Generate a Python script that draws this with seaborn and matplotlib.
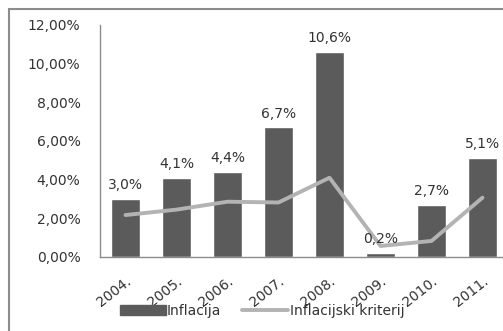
import matplotlib
matplotlib.use('Agg')
import matplotlib.pyplot as plt
import matplotlib.patches as mpatches
import seaborn as sns
import pandas as pd

years = ['2004.', '2005.', '2006.', '2007.', '2008.', '2009.', '2010.', '2011.']
inflacija = [3.0, 4.1, 4.4, 6.7, 10.6, 0.2, 2.7, 5.1]
kriterij = [2.17, 2.45, 2.86, 2.82, 4.1, 0.57, 0.83, 3.07]
y_ticks = [0, 2, 4, 6, 8, 10, 12]

df = pd.DataFrame({'godina': years, 'inflacija': inflacija, 'kriterij': kriterij})

sns.set_style('white')
plt.rcParams['font.family'] = ['DejaVu Sans']

fig = plt.figure(figsize=(5.03, 3.31), dpi=100)
W, H = 503, 331
fs = 10

# outer chart frame (cut at right/bottom like the reference)
fig.patches.append(mpatches.Rectangle((9 / W, -0.05), 1.0, 1 - 9 / H + 0.05,
                                      transform=fig.transFigure, fill=False,
                                      edgecolor='#8c8c8c', linewidth=1.5))

ax = fig.add_axes([100 / W, (H - 257) / H, 408 / W, 232 / H])

bar_col = '#5b5b5b'
line_col = '#b3b3b3'

sns.barplot(data=df, x='godina', y='inflacija', color=bar_col, width=0.57,
            saturation=1, ax=ax, zorder=2)
sns.lineplot(x=range(len(years)), y=kriterij, color=line_col, linewidth=2.8,
             ax=ax, zorder=3)

for i, v in enumerate(inflacija):
    ax.annotate(f'{v:.1f}%'.replace('.', ','), (i, v), xytext=(0, 5),
                textcoords='offset points', ha='center', va='bottom',
                fontsize=fs, color='#333333')

ax.set_ylim(0, 12)
ax.set_xlim(-0.5, 7.5)
ax.set_yticks(y_ticks)
ax.set_yticklabels([f'{t:.2f}%'.replace('.', ',') for t in y_ticks],
                   fontsize=fs, color='#333333')
ax.tick_params(axis='y', length=0, pad=14)
ax.tick_params(axis='x', length=0, pad=12)
ax.set_xticks(range(len(years)))
ax.set_xticklabels(years, rotation=38, ha='right', rotation_mode='anchor',
                   fontsize=fs, color='#333333')
ax.set_xlabel('')
ax.set_ylabel('')
for s in ['top', 'right']:
    ax.spines[s].set_visible(False)
for s in ['left', 'bottom']:
    ax.spines[s].set_color('#8c8c8c')
    ax.spines[s].set_linewidth(1.0)

handles = [mpatches.Patch(color=bar_col),
           plt.Line2D([0], [0], color=line_col, linewidth=2.8)]
fig.legend(handles, ['Inflacija', 'Inflacijski kriterij'], loc='center',
           bbox_to_anchor=(262 / W, 1 - 311 / H), ncol=2, frameon=False,
           fontsize=fs, handlelength=3.3, handleheight=0.8,
           columnspacing=1.5, handletextpad=0.1, labelcolor='#333333')

fig.savefig('out.png', dpi=100)
